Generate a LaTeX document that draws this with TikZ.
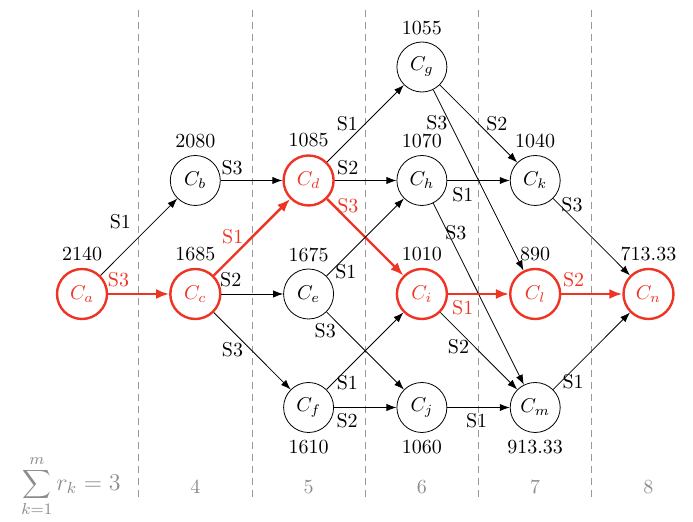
\documentclass[tikz,border=0pt]{standalone}
\usetikzlibrary{arrows.meta}
\definecolor{hl}{RGB}{238,52,36}
\begin{document}
\begin{tikzpicture}[x=0.5pt,y=-0.5pt,
  st/.style={circle,draw,minimum size=25pt,inner sep=0pt,line width=0.4pt},
  hot/.style={st,draw=hl,text=hl,line width=1.2pt},
  arr/.style={-{Latex[length=5pt,width=3.6pt]},line width=0.4pt},
  harr/.style={draw=hl,line width=1.2pt,-{Latex[length=6.5pt,width=5pt]}},
  lab/.style={inner sep=0pt,anchor=center},
  hlab/.style={lab,text=hl},
  sep/.style={gray!80,dash pattern=on 3.5pt off 2.5pt,line width=0.4pt},
  ax/.style={text=gray!90}]
\useasboundingbox (0,0) rectangle (693,522);
% separators
\foreach \xx [count=\i] in {138.6,252,365.2,478.5,591.8}
  \draw[sep] (\xx,10) coordinate (t\i) -- (\xx,497) coordinate (b\i);
% nodes
\node[hot,label={above:2140}] (Ca) at (82,294) {$C_a$};
\node[st,label={above:2080}] (Cb) at (195.3,180.5) {$C_b$};
\node[hot,label={above:1685}] (Cc) at (195.3,294) {$C_c$};
\node[hot,label={above:1085}] (Cd) at (308.6,180.5) {$C_d$};
\node[st,label={above:1675}] (Ce) at (308.6,294) {$C_e$};
\node[st,label={below:1610}] (Cf) at (308.6,407.5) {$C_f$};
\node[st,label={above:1055}] (Cg) at (421.9,67) {$C_g$};
\node[st,label={above:1070}] (Ch) at (421.9,180.5) {$C_h$};
\node[hot,label={above:1010}] (Ci) at (421.9,294) {$C_i$};
\node[st,label={below:1060}] (Cj) at (421.9,407.5) {$C_j$};
\node[st,label={above:1040}] (Ck) at (535.2,180.5) {$C_k$};
\node[hot,label={above:890}] (Cl) at (535.2,294) {$C_l$};
\node[st,label={below:913.33}] (Cm) at (535.2,407.5) {$C_m$};
\node[hot,label={above:713.33}] (Cn) at (648.5,294) {$C_n$};
% edges
\draw[arr] (Ca) -- (Cb) node[lab,pos=0.48,shift={(-17,-17)}] {S1};
\draw[harr] (Ca) -- (Cc) node[hlab,pos=0.17,shift={(0,-14)}] {S3};
\draw[arr] (Cb) -- (Cd) node[lab,pos=0.185,shift={(0,-12.5)}] {S3};
\draw[harr] (Cc) -- (Cd) node[hlab,pos=0.38,shift={(-10,-10)}] {S1};
\draw[arr] (Cc) -- (Ce) node[lab,pos=0.15,shift={(0,-14)}] {S2};
\draw[arr] (Cc) -- (Cf) node[lab,pos=0.36,shift={(-9,9)}] {S3};
\draw[arr] (Cd) -- (Cg) node[lab,pos=0.38,shift={(-9,-9)}] {S1};
\draw[arr] (Cd) -- (Ch) node[lab,pos=0.21,shift={(0,-12.5)}] {S2};
\draw[harr] (Cd) -- (Ci) node[hlab,pos=0.18,shift={(7,-7)}] {S3};
\draw[arr] (Ce) -- (Ch) node[lab,pos=0.15,shift={(7.7,7.7)}] {S1};
\draw[arr] (Ce) -- (Cj) node[lab,pos=0.11,shift={(-9.8,9.8)}] {S3};
\draw[arr] (Cf) -- (Ci) node[lab,pos=0.18,shift={(7,7)}] {S1};
\draw[arr] (Cf) -- (Cj) node[lab,pos=0.21,shift={(0,13.5)}] {S2};
\draw[arr] (Cg) -- (Ck) node[lab,pos=0.62,shift={(9,-9)}] {S2};
\draw[arr] (Cg) -- (Cl) node[lab,pos=0.156,shift={(-10.4,5.2)}] {S3};
\draw[arr] (Ch) -- (Ck) node[lab,pos=0.25,shift={(0,14.5)}] {S1};
\draw[arr] (Ch) -- (Cm) node[lab,pos=0.18,shift={(6.3,-3.2)}] {S3};
\draw[harr] (Ci) -- (Cl) node[hlab,pos=0.24,shift={(0,14)}] {S1};
\draw[arr] (Ci) -- (Cm) node[lab,pos=0.34,shift={(-8,8)}] {S2};
\draw[arr] (Cj) -- (Cm) node[lab,pos=0.47,shift={(0,13.5)}] {S1};
\draw[arr] (Ck) -- (Cn) node[lab,pos=0.16,shift={(6.6,-6.6)}] {S3};
\draw[harr] (Cl) -- (Cn) node[hlab,pos=0.2,shift={(0,-14)}] {S2};
\draw[arr] (Cm) -- (Cn) node[lab,pos=0.18,shift={(6.2,6.2)}] {S1};
% bottom axis
\node[ax,font=\large] (sum) at (71,486) {$\displaystyle\sum_{k=1}^{m} r_k = 3$};
\node[ax] (n4) at (195.3,487) {4};
\node[ax] (n5) at (308.6,487) {5};
\node[ax] (n6) at (421.9,487) {6};
\node[ax] (n7) at (535.2,487) {7};
\node[ax] (n8) at (648.5,487) {8};
\end{tikzpicture}
\end{document}
